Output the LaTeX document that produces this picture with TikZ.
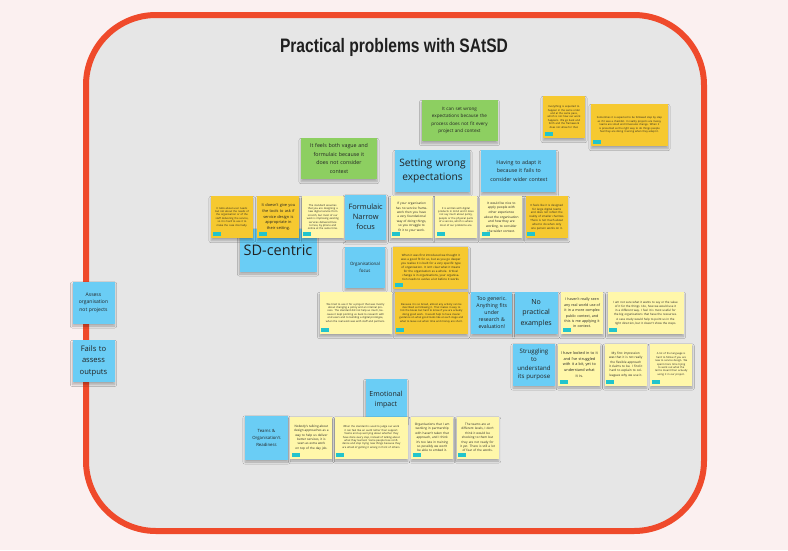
\documentclass[tikz,border=0pt]{standalone}
\usepackage{fontspec}
\setmainfont{Open Sans}
\newfontfamily\titlefont[FakeStretch=0.8]{Liberation Sans}
\usetikzlibrary{positioning,shadows.blur}
\definecolor{pagepink}{HTML}{FBF0F0}
\definecolor{boardgray}{HTML}{E6E6E6}
\definecolor{framered}{HTML}{EF4A2B}
\definecolor{stickyblue}{HTML}{6ACDF5}
\definecolor{stickygreen}{HTML}{8DCF61}
\definecolor{stickyyellow}{HTML}{FFF7AA}
\definecolor{stickyorange}{HTML}{F6C930}
\definecolor{tagcyan}{HTML}{22C4CC}
\definecolor{notetext}{HTML}{222222}
\tikzset{
  sticky/.style={inner sep=1.5pt, align=center, text=notetext,
    minimum width=42pt, minimum height=42pt,
    blur shadow={shadow xshift=0pt, shadow yshift=-2.5pt, shadow blur steps=6, shadow opacity=28}},
  bluenote/.style={sticky, fill=stickyblue},
  greennote/.style={sticky, fill=stickygreen, minimum width=76pt, minimum height=41pt},
  tagged/.style={path picture={\fill[tagcyan] ([xshift=1.5pt,yshift=2pt]path picture bounding box.south west) rectangle ++(8pt,4pt);}},
  yellownote/.style={sticky, fill=stickyyellow, tagged},
  orangenote/.style={sticky, fill=stickyorange, tagged},
  widenote/.style={minimum width=75pt},
  tinytext/.style={font=\fontsize{2.6}{3.4}\selectfont, text width=36pt},
  smalltext/.style={font=\fontsize{3.1}{4.4}\selectfont, text width=37pt},
  readtext/.style={font=\fontsize{3.6}{5.4}\selectfont, text width=39pt}
}
\begin{document}
\begin{tikzpicture}[x=1pt, y=-1pt]
  \fill[pagepink] (0,0) rectangle (788,550);
  \useasboundingbox (0,0) rectangle (788,550);
  % board
  \draw[line width=6pt, draw=framered, fill=boardgray, rounded corners=70pt] (86,15) rectangle (704,531);
  \node[font={\titlefont\bfseries\fontsize{19.5}{22}\selectfont}, text=black!88] (title) at (394,47) {Practical problems with SAtSD};

  % left column
  \node[bluenote, font=\fontsize{5}{7.5}\selectfont, text width=39pt] (assess) at (93.5,302.5) {Assess\\organisation\\not projects};
  \node[bluenote, font=\fontsize{7.6}{11.5}\selectfont, text width=39pt, below=16pt of assess] (fails) {Fails to\\assess\\outputs};

  % top
  \node[greennote, font=\fontsize{4.6}{7.3}\selectfont, text width=72pt] (wrongfit) at (459.5,120.5) {It can set wrong\\expectations because the\\process does not fit every\\project and context};
  \node[greennote, font=\fontsize{5.3}{8.6}\selectfont, text width=72pt] (vague) at (339,158.5) {It feels both vague and\\formulaic because it\\does not consider\\context};
  \node[orangenote, tinytext] (sequence) at (564,117) {Everything is expected to happen in the same order and at the same pace, which is not how our work happens. We go back and forth and the framework does not allow for that.};
  \node[orangenote, tinytext, text width=66pt, minimum width=77pt] (checklist) at (629.5,125) {Sometimes it is expected to be followed step by step as if it was a checklist. In reality projects are messy, teams are small and timescales change. When it is presented as the right way to do things people feel they are doing it wrong when they adapt it.};
  \node[bluenote, minimum width=75pt, font=\fontsize{10.2}{14}\selectfont, text width=72pt] (expect) at (432.5,171) {Setting wrong\\expectations};
  \node[bluenote, minimum width=75pt, font=\fontsize{5.3}{8.3}\selectfont, text width=72pt, right=11pt of expect] (adapt) {Having to adapt it\\because it fails to\\consider wider context};

  % SD-centric row
  \node[bluenote, minimum width=77pt, minimum height=43pt, font=\fontsize{14.5}{17}\selectfont] (sdcentric) at (278,250) {SD-centric};
  \node[orangenote, tinytext] (usersonly) at (232,217) {It talks about user needs but not about the needs of the organisation or of the staff delivering the service, so it is hard to use it to make the case internally.};
  \node[orangenote, readtext, font=\fontsize{3.9}{5.6}\selectfont, right=4pt of usersonly] (tools) {It doesn't give you\\the tools to ask if\\service design is\\appropriate in\\their setting.};
  \node[yellownote, tinytext, right=2pt of tools] (scratch) {The standard assumes that you are designing a new digital service from scratch, but most of our work is improving existing services delivered face to face, by phone and online at the same time.};
  \node[bluenote, minimum width=41pt, minimum height=45pt, font=\fontsize{7.4}{10}\selectfont, text width=38pt, right=1pt of scratch] (formulaic) {Formulaic\\Narrow\\focus};
  \node[yellownote, smalltext, right=4pt of formulaic] (framework) {If your organisation has no service framework then you have a very foundational way of doing things, so you struggle to fit it to your work.};
  \node[yellownote, tinytext, right=2pt of framework] (digital) {It is written with digital products in mind and it does not say much about policy, people or the physical parts of a service, which is where most of our problems are.};
  \node[yellownote, font=\fontsize{3.2}{4.7}\selectfont, text width=38pt, right=3pt of digital] (experience) {It would be nice to apply people with other experience about the organisation and how they are working, to consider the wider context.};
  \node[orangenote, font=\fontsize{2.8}{3.8}\selectfont, text width=37pt, right=3pt of experience] (smallteams) {It feels like it is designed for large digital teams and does not reflect the reality of smaller charities. There is not much about what to do when only one person works on it.};

  % organisational row
  \node[bluenote, minimum width=40pt, minimum height=41pt, font=\fontsize{4.4}{7}\selectfont, text width=37pt] (orgfocus) at (365,267.5) {Organisational\\focus};
  \node[orangenote, widenote, font=\fontsize{2.9}{3.9}\selectfont, text width=68pt, right=8pt of orgfocus] (evolve) {When it was first introduced we thought it was a good fit for us, but as you go deeper you realise it is built for a very specific type of organisation. It isn't clear what it means for the organisation as a whole. Critical change is in organisations, your organisation needs to evolve a lot before it works.};

  % generic row
  \node[yellownote, minimum width=72pt, tinytext, text width=66pt] (policy) at (355.5,313) {We tried to use it for a project that was mostly about changing a policy and an internal process. The standard did not help us much, because it kept pointing us back to research with end users and to building a digital prototype, when the real work was with staff and partners.};
  \node[orangenote, minimum width=73pt, tinytext, text width=67pt, right=3pt of policy] (everything) {Because it is so broad, almost any activity can be described as following it. That makes it easy to tick the boxes but hard to know if you are actually doing good work. It would help to have clearer guidance on what good looks like at each stage and what to leave out when time and money are short.};
  \node[bluenote, minimum width=41pt, font=\fontsize{5.2}{7}\selectfont, text width=38pt, right=3pt of everything] (generic) {Too generic.\\Anything fits\\under\\research \&\\evaluation!};
  \node[bluenote, minimum width=43pt, font=\fontsize{7}{10.5}\selectfont, text width=40pt, right=2pt of generic] (noexamples) {No\\practical\\examples};
  \node[yellownote, readtext, right=3pt of noexamples] (realworld) {I haven't really seen\\any real world use of\\it in a more complex\\public context, and\\this is me applying it\\in context.};
  \node[yellownote, minimum width=76pt, font=\fontsize{2.9}{4.2}\selectfont, text width=70pt, right=4pt of realworld] (casestudy) {I am not sure what it wants to say or the value of it for the things I do, how we would use it in a different way. I feel it is most useful for the big organisations that have the resources. A case study would help to point us in the right direction, but it doesn't show the steps.};

  % purpose row
  \node[bluenote, font=\fontsize{6.1}{8.2}\selectfont, text width=39pt] (struggle) at (534,364.5) {Struggling\\to\\understand\\its purpose};
  \node[yellownote, readtext, font=\fontsize{3.8}{5.6}\selectfont, right=3pt of struggle] (lookedin) {I have looked in to it\\and I've struggled\\with it a bit, yet to\\understand what\\it is.};
  \node[yellownote, smalltext, right=4pt of lookedin] (firstlook) {My first impression was that it is not really the flexible approach it claims to be. I find it hard to explain to colleagues why we use it.};
  \node[yellownote, tinytext, right=3pt of firstlook] (jargon) {A lot of the language is hard to follow if you are new to service design. We spent more time trying to work out what the terms meant than actually using it in our project.};

  % readiness row
  \node[bluenote, minimum width=40pt, font=\fontsize{7}{10}\selectfont, text width=38pt] (emotion) at (386,400) {Emotional\\impact};
  \node[bluenote, minimum width=43pt, minimum height=44pt, font=\fontsize{4.3}{7}\selectfont, text width=40pt] (teams) at (266.5,437.5) {Teams \&\\Organisation's\\Readiness};
  \node[yellownote, smalltext, right=2pt of teams] (dayjob) {Nobody's talking about design approaches as a way to help us deliver better services, it is seen as extra work on top of the day job.};
  \node[yellownote, minimum width=73pt, tinytext, text width=67pt, right=2pt of dayjob] (pressure) {When the standard is used to judge our work it can feel like an audit rather than support. Teams end up worrying about whether they have done every step, instead of talking about what they learned. Some people lose confidence and stop trying new things because they are afraid of getting it wrong in front of others.};
  \node[yellownote, smalltext, right=3pt of pressure] (partners) {Organisations that I am working in partnership with haven't taken that approach, and I think it's too late in training so possibly we won't be able to embed it.};
  \node[yellownote, smalltext, right=3pt of partners] (notready) {The teams are at different levels, I don't think it would be shocking to them but they are not ready for it yet. There is still a lot of fear of the words.};
\end{tikzpicture}
\end{document}
